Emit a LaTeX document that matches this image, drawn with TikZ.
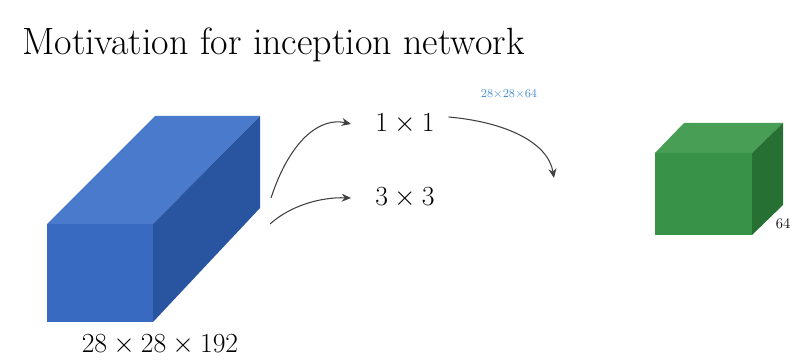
\documentclass[tikz,border=0pt]{standalone}
\usepackage{amsmath}
\usepackage{tikz}
\usetikzlibrary{arrows, arrows.meta, positioning, calc}

\definecolor{blueFront}{RGB}{56,106,194}
\definecolor{blueTop}{RGB}{74,122,204}
\definecolor{blueSide}{RGB}{40,84,160}
\definecolor{greenFront}{RGB}{56,146,72}
\definecolor{greenTop}{RGB}{72,158,84}
\definecolor{greenSide}{RGB}{38,112,52}
\definecolor{penBlue}{RGB}{64,142,214}

\begin{document}
\begin{tikzpicture}[
    x=0.75pt, y=-0.75pt,
    lbl/.style={inner sep=0pt, font=\fontsize{22.5}{26}\selectfont},
    arrow/.style={-{Stealth[length=7pt, width=6pt]}, thick, black!75}
]
\useasboundingbox (0,0) rectangle (793,360);

% Titulo
\node[anchor=base west, inner sep=0pt, font=\fontsize{28.5}{33}\selectfont] (title) at (22,55) {Motivation for inception network};

% Volumen de entrada
\fill[blueTop] (47,224) -- (155,116) -- (260,116) -- (153,224) -- cycle;
\fill[blueSide] (153,224) -- (260,116) -- (260,208) -- (153,322) -- cycle;
\fill[blueFront] (47,224) rectangle (153,322);
\node[inner sep=0pt, font=\fontsize{19.5}{23}\selectfont] (insize) at (160,345) {$28\times28\times192$};

% Volumen de salida
\fill[greenTop] (655,153) -- (684,123) -- (783,123) -- (752,153) -- cycle;
\fill[greenSide] (752,153) -- (783,123) -- (783,205) -- (752,235) -- cycle;
\fill[greenFront] (655,153) rectangle (752,235);
\node[inner sep=0pt, font=\fontsize{11}{13}\selectfont] (outsize) at (783,224) {64};

% Filtros
\node[lbl, anchor=west] (one) at (375,124) {$1\times1$};
\node[lbl, anchor=west] (three) at (375,198) {$3\times3$};
\node[inner sep=0pt, text=penBlue, font=\sffamily\fontsize{9}{10}\selectfont] (note) at (509,94) {$28{\times}28{\times}64$};

% Flechas
\coordinate (s1) at (271,198);
\coordinate (s2) at (270,224);
\coordinate (e3) at (554,178);
\draw[arrow] (s1) .. controls (290,140) and (320,117) .. ([xshift=-18]one.west);
\draw[arrow] (s2) .. controls (290,206) and (320,197) .. ([xshift=-18]three.west);
\draw[arrow] ([shift={(14,-7)}]one.east) .. controls (505,122) and (548,142) .. (e3);

\end{tikzpicture}
\end{document}
